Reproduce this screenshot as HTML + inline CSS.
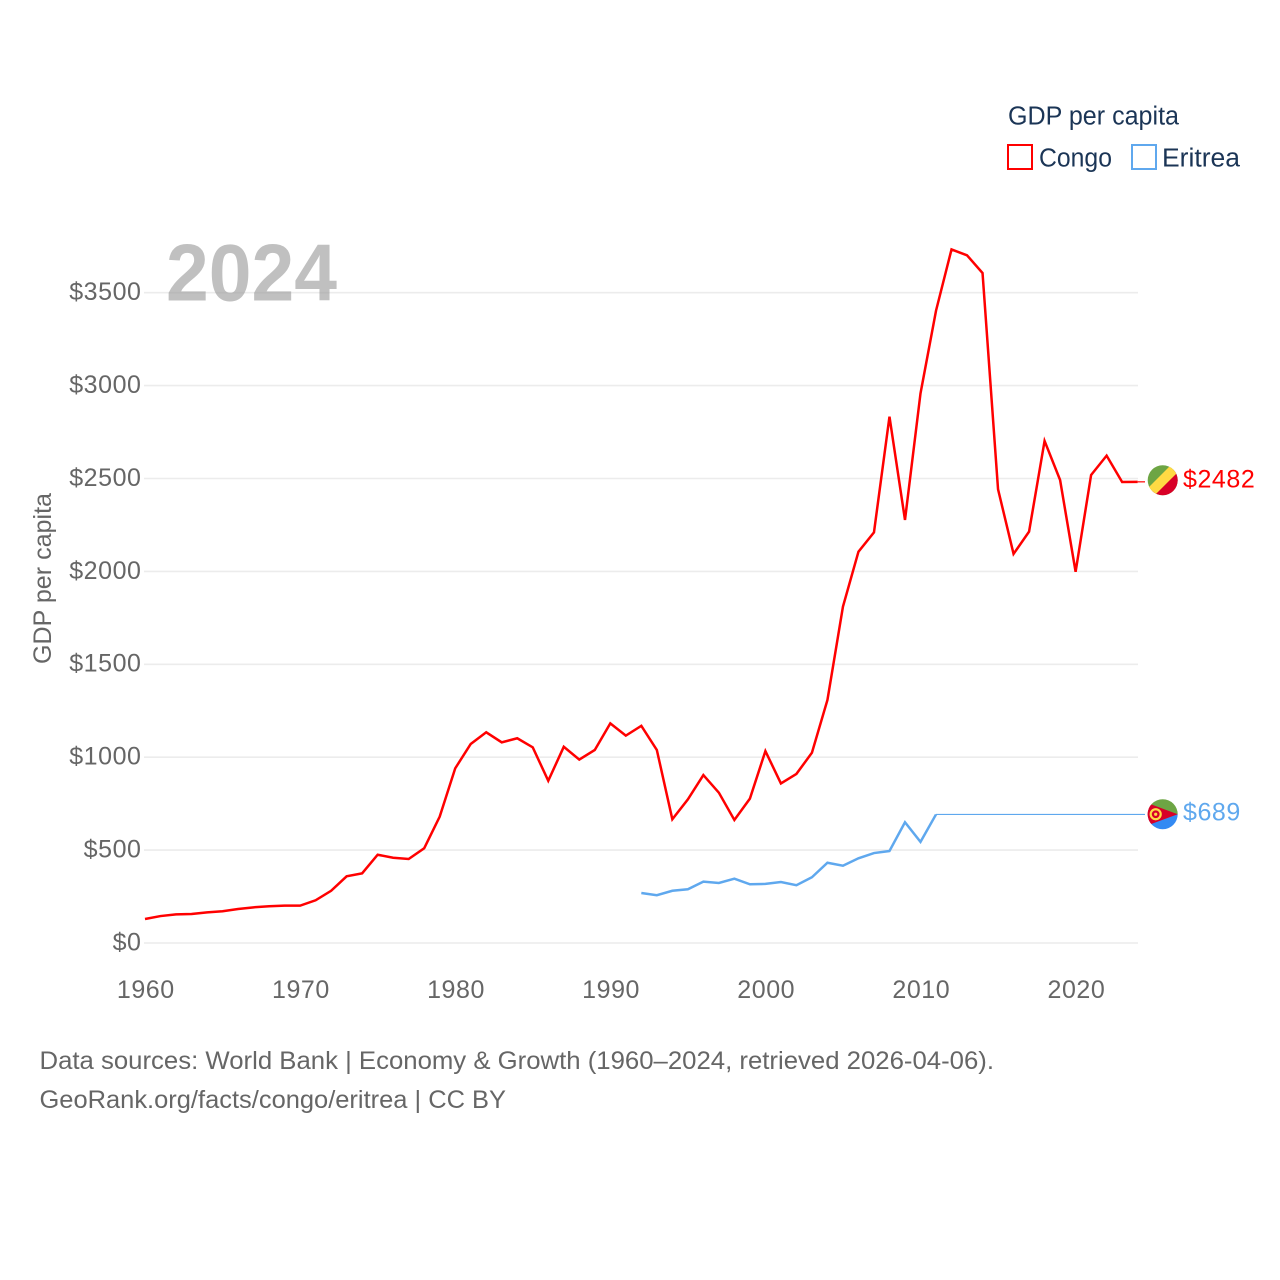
<!DOCTYPE html>
<html lang="en">
<head>
<meta charset="utf-8">
<title>GDP per capita: Congo and Eritrea</title>
<style>
html,body{margin:0;padding:0;background:#fff;}
svg{display:block;}
text{font-family:"Liberation Sans",sans-serif;}
</style>
</head>
<body>
<svg id="chart" xmlns="http://www.w3.org/2000/svg" width="1280" height="1280" viewBox="0 0 1280 1280">
  <rect width="1280" height="1280" fill="#fff"/>
  <defs>
    <clipPath id="congo-clip"><circle cx="0" cy="0" r="15"/></clipPath>
    <clipPath id="eritrea-clip"><circle cx="0" cy="0" r="15"/></clipPath>
  </defs>
  <g id="grid"></g>
  <text x="166" y="300.5" font-size="81" font-weight="700" fill="#999" fill-opacity="0.62" textLength="171" lengthAdjust="spacingAndGlyphs">2024</text>
  <g id="y-ticks"></g>
  <g id="x-ticks"></g>
  <text transform="translate(51 664) rotate(-90)" font-size="25" fill="#666" textLength="171" lengthAdjust="spacingAndGlyphs">GDP per capita</text>
  <g id="series"></g>
  <g id="flags"></g>

  <g>
    <text x="1008" y="124.5" font-size="25.5" fill="#1b3556" textLength="171" lengthAdjust="spacingAndGlyphs">GDP per capita</text>
    <g>
      <rect x="1008" y="145" width="24" height="24" fill="none" stroke="#ff0000" stroke-width="2"/>
      <text x="1039" y="166.5" font-size="25.5" fill="#1b3556" textLength="73" lengthAdjust="spacingAndGlyphs">Congo</text>
    </g>
    <g>
      <rect x="1132" y="145" width="24" height="24" fill="none" stroke="#5fa8ee" stroke-width="2"/>
      <text x="1162" y="166.5" font-size="25.5" fill="#1b3556" textLength="78" lengthAdjust="spacingAndGlyphs">Eritrea</text>
    </g>
  </g>

  <text x="39.5" y="1069" font-size="25" fill="#666" textLength="954.5" lengthAdjust="spacingAndGlyphs">Data sources: World Bank | Economy &amp; Growth (1960–2024, retrieved 2026-04-06).</text>
  <text x="39.5" y="1108" font-size="25" fill="#666" textLength="466.5" lengthAdjust="spacingAndGlyphs">GeoRank.org/facts/congo/eritrea | CC BY</text>
</svg>
<script>
const yTickValues = [0, 500, 1000, 1500, 2000, 2500, 3000, 3500];
const xTickYears = [1960, 1970, 1980, 1990, 2000, 2010, 2020];
const congoStartYear = 1960;
const congoValues = [
  129,145,154,156,165,171,183,192,198,201,
  201,230,281,359,375,475,459,452,510,680,
  940,1071,1134,1080,1102,1053,873,1056,987,1039,
  1182,1116,1169,1039,666,773,904,809,662,777,
  1033,859,910,1024,1308,1810,2106,2210,2833,2277,
  2958,3403,3733,3701,3606,2442,2094,2214,2702,2492,
  1998,2519,2623,2481,2482
];
const eritreaStartYear = 1992;
const eritreaValues = [
  269,257,281,289,330,323,346,316,318,328,
  311,354,432,416,456,484,495,650,544,692
];
const congoLatestValue = 2482;
const eritreaLatestValue = 689;

const NS = 'http://www.w3.org/2000/svg';
const xAxis = year => 145 + (year - 1960) * 15.51;
const yAxis = value => 943 - value * 0.1858;
const FLAG_X = 1162.7;
const X_RIGHT = 1138;

function svgEl(tag, attrs, parent) {
  const el = document.createElementNS(NS, tag);
  for (const k in attrs) el.setAttribute(k, attrs[k]);
  parent.appendChild(el);
  return el;
}

const gridG = document.getElementById('grid');
const yTickG = document.getElementById('y-ticks');
yTickValues.forEach(v => {
  const line = svgEl('line', {x1: 144, x2: X_RIGHT, y1: yAxis(v), y2: yAxis(v), stroke: '#ececec', 'stroke-width': 1.6}, gridG);
  
  
  const t = svgEl('text', {x: 141.5, y: yAxis(v) + 7.4, 'text-anchor': 'end', 'font-size': 25, fill: '#666', 'letter-spacing': 0.55}, yTickG);
  t.textContent = '$' + v;
  
  
});

const xTickG = document.getElementById('x-ticks');
xTickYears.forEach(year => {
  const t = svgEl('text', {x: xAxis(year) + 0.8, y: 998, 'text-anchor': 'middle', 'font-size': 25, fill: '#666', 'letter-spacing': 0.55}, xTickG);
  t.textContent = String(year);
  
  
});

function pointsFor(startYear, values) {
  return values.map((v, i) => xAxis(startYear + i).toFixed(2) + ',' + yAxis(v).toFixed(2)).join(' ');
}

const seriesG = document.getElementById('series');
const flagsG = document.getElementById('flags');

const congoLine = svgEl('polyline', {points: pointsFor(congoStartYear, congoValues), fill: 'none', stroke: '#ff0000', 'stroke-width': 2.5, 'stroke-linejoin': 'miter'}, seriesG);



const eritreaLine = svgEl('polyline', {points: pointsFor(eritreaStartYear, eritreaValues), fill: 'none', stroke: '#5fa8ee', 'stroke-width': 2.5, 'stroke-linejoin': 'miter'}, seriesG);



const congoLastY = yAxis(congoValues[congoValues.length - 1]);
const congoLastX = xAxis(congoStartYear + congoValues.length - 1);
const congoConnector = svgEl('line', {x1: congoLastX, y1: congoLastY, x2: 1145, y2: congoLastY, stroke: '#ff0000', 'stroke-width': 1.2}, seriesG);



const eritreaLastY = yAxis(eritreaValues[eritreaValues.length - 1]);
const eritreaLastX = xAxis(eritreaStartYear + eritreaValues.length - 1);
const eritreaConnector = svgEl('line', {x1: eritreaLastX, y1: eritreaLastY, x2: 1145, y2: eritreaLastY, stroke: '#5fa8ee', 'stroke-width': 1.2}, seriesG);



/* Congo flag */
const congoFlag = svgEl('g', {transform: 'translate(' + FLAG_X + ' ' + (congoLastY - 1.6) + ')', 'clip-path': 'url(#congo-clip)'}, flagsG);


svgEl('rect', {x: -16, y: -16, width: 32, height: 32, fill: '#6da544'}, congoFlag);
svgEl('polygon', {points: '-16,16 16,-16 16,16', fill: '#d80027'}, congoFlag);
svgEl('polygon', {points: '-16,9 9,-16 16,-16 16,-9 -9,16 -16,16', fill: '#ffda44'}, congoFlag);

const congoValueLabel = svgEl('text', {x: 1183, y: congoLastY + 5.5, 'font-size': 25, fill: '#ff0000', 'letter-spacing': 0.55}, flagsG);
congoValueLabel.textContent = '$' + congoLatestValue;



/* Eritrea flag */
const eritreaFlag = svgEl('g', {transform: 'translate(' + FLAG_X + ' ' + (eritreaLastY - 0.2) + ')', 'clip-path': 'url(#eritrea-clip)'}, flagsG);


svgEl('rect', {x: -16, y: -16, width: 32, height: 16, fill: '#6da544'}, eritreaFlag);
svgEl('rect', {x: -16, y: 0, width: 32, height: 16, fill: '#338af3'}, eritreaFlag);
svgEl('polygon', {points: '-16,-11.5 15,0 -16,11.5', fill: '#d80027'}, eritreaFlag);
svgEl('polygon', {points: '-15.5,-10 -6,-6 -6,6 -15.5,10', fill: '#d80027'}, eritreaFlag);
svgEl('circle', {cx: -7, cy: 0, r: 5, fill: 'none', stroke: '#ffda44', 'stroke-width': 2.2}, eritreaFlag);
svgEl('circle', {cx: -7, cy: 0, r: 1.6, fill: '#ffda44'}, eritreaFlag);

const eritreaValueLabel = svgEl('text', {x: 1183, y: eritreaLastY + 6, 'font-size': 25, fill: '#5fa8ee', 'letter-spacing': 0.55}, flagsG);
eritreaValueLabel.textContent = '$' + eritreaLatestValue;


</script>
</body>
</html>
